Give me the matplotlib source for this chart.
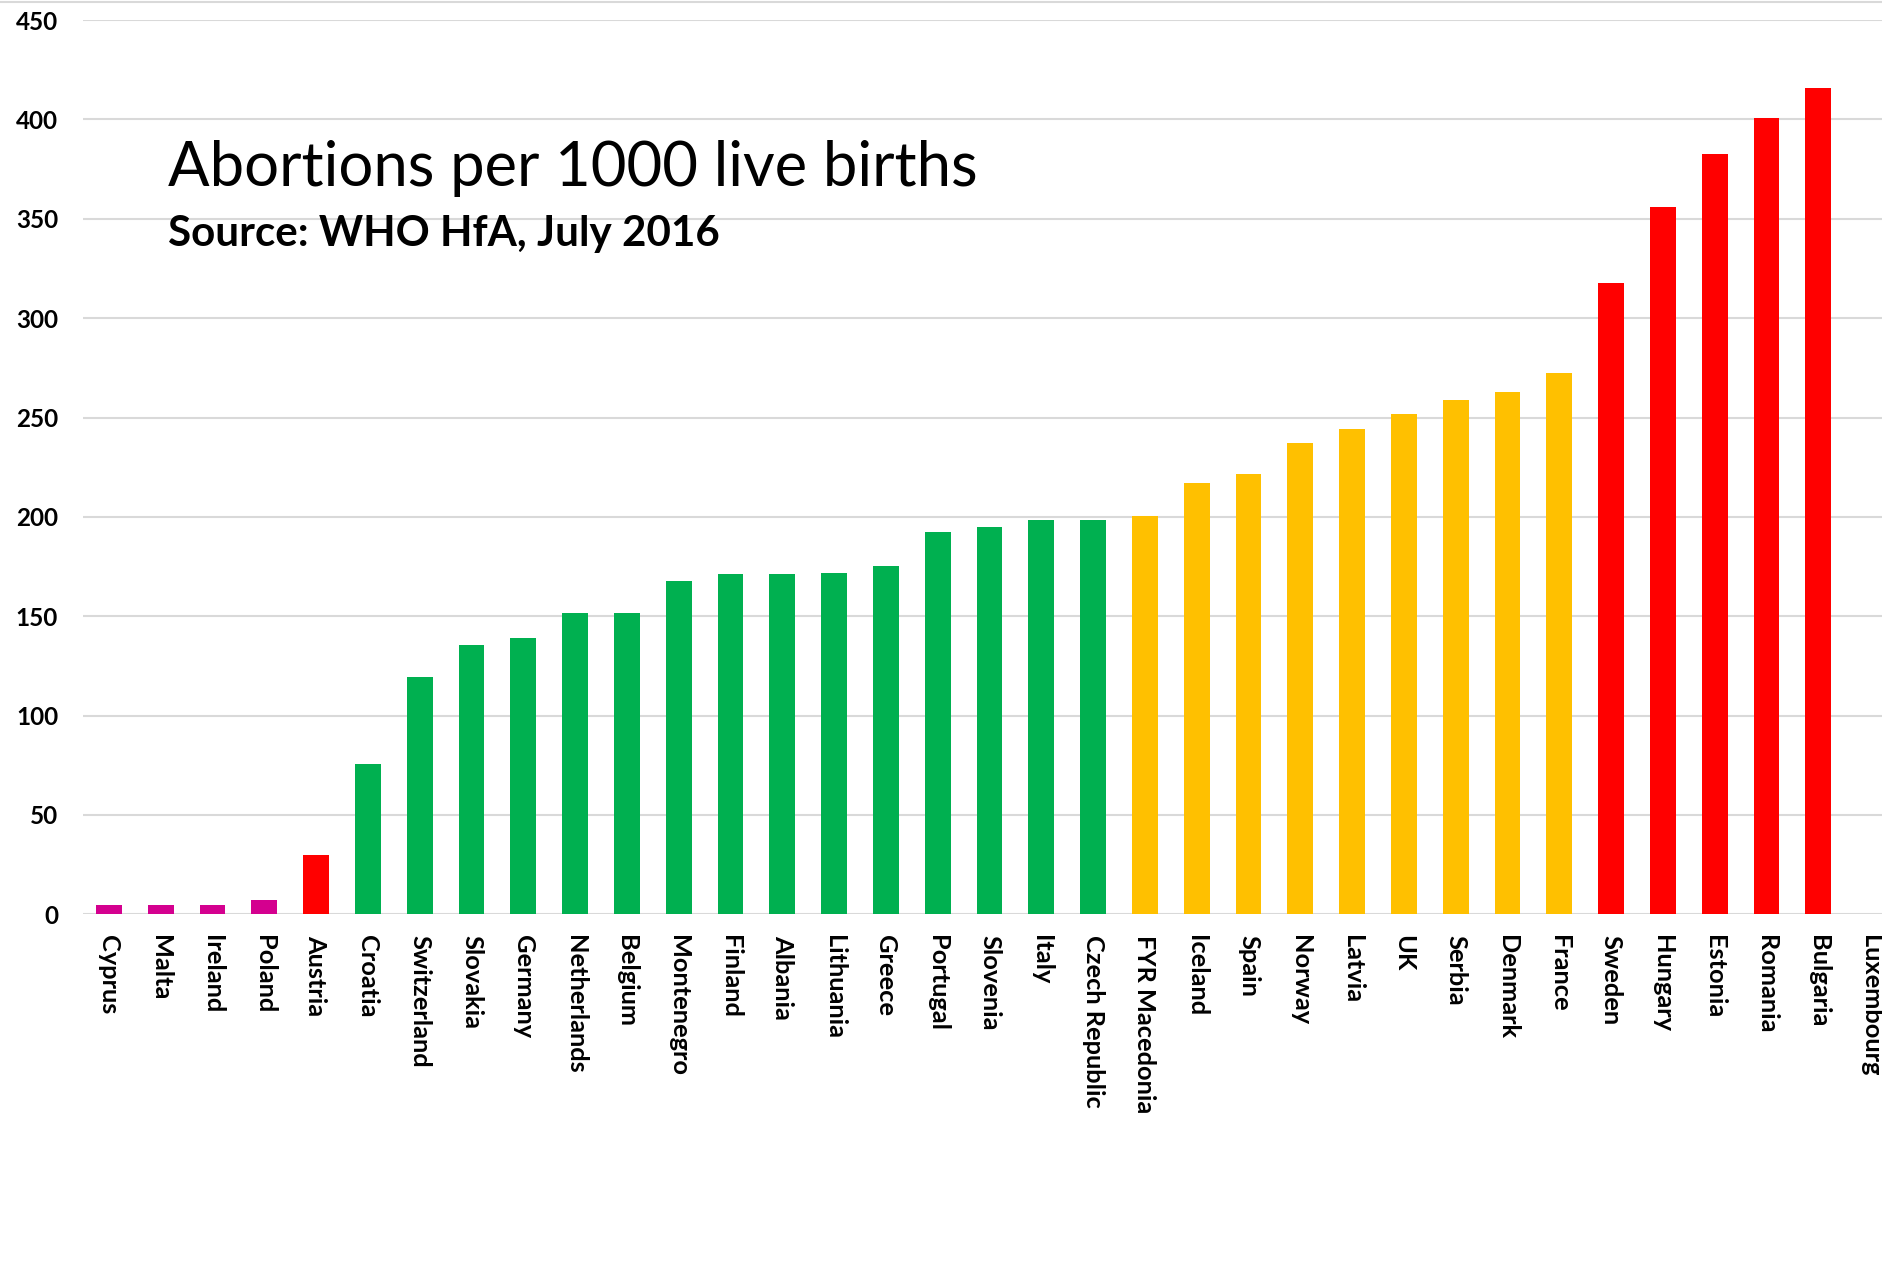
import numpy as np
import matplotlib
matplotlib.use("Agg")
import matplotlib.pyplot as plt
from matplotlib.lines import Line2D

countries = ["Cyprus", "Malta", "Ireland", "Poland", "Austria", "Croatia", "Switzerland",
             "Slovakia", "Germany", "Netherlands", "Belgium", "Montenegro", "Finland",
             "Albania", "Lithuania", "Greece", "Portugal", "Slovenia", "Italy",
             "Czech Republic", "FYR Macedonia", "Iceland", "Spain", "Norway", "Latvia",
             "UK", "Serbia", "Denmark", "France", "Sweden", "Hungary", "Estonia",
             "Romania", "Bulgaria", "Luxembourg"]
abortions = [4.5, 4.5, 4.5, 7.2, 29.7, 75.8, 119.4, 135.4, 138.9, 151.5, 151.5, 167.6,
             171.1, 171.1, 171.9, 175.5, 192.4, 195.1, 198.6, 198.6, 200.3, 217.2,
             221.7, 237.0, 244.1, 251.9, 259.0, 262.7, 272.4, 317.9, 356.1, 382.8,
             400.6, 415.7, 0]
group = ["low", "low", "low", "low", "high", "mid", "mid", "mid", "mid", "mid", "mid",
         "mid", "mid", "mid", "mid", "mid", "mid", "mid", "mid", "mid", "upper",
         "upper", "upper", "upper", "upper", "upper", "upper", "upper", "upper",
         "high", "high", "high", "high", "high", "high"]
yticks = [0, 50, 100, 150, 200, 250, 300, 350, 400, 450]

palette = {"low": "#D4008F", "mid": "#00B050", "upper": "#FFC000", "high": "#FF0000"}

plt.rcParams["font.family"] = ["Lato", "DejaVu Sans"]

fig = plt.figure(figsize=(18.83, 12.69), dpi=100)
ax = fig.add_axes([0.0441, 0.2795, 0.9628, 0.7047])

x = np.arange(len(countries))
ax.bar(x, abortions, width=0.5, color=[palette[g] for g in group], zorder=3)

ax.set_xlim(-0.5, len(countries) - 0.5)
ax.set_ylim(0, 450)
ax.set_yticks(yticks)
ax.set_yticklabels([str(v) for v in yticks], fontsize=17.5, fontweight="bold")
ax.set_xticks(x)
ax.set_xticklabels(countries, rotation=270, fontsize=18.3, fontweight="bold")
ax.tick_params(axis="y", length=0, pad=18)
ax.tick_params(axis="x", length=0, pad=15)
ax.yaxis.grid(True, color="#D9D9D9", linewidth=1.5, zorder=0)
ax.set_axisbelow(True)
for s in ax.spines.values():
    s.set_visible(False)

fig.text(0.0892, 0.8534, "Abortions per 1000 live births", fontsize=44.3, va="baseline")
fig.text(0.0892, 0.8061, "Source: WHO HfA, July 2016", fontsize=30.3, fontweight="bold",
         va="baseline")
fig.add_artist(Line2D([0, 1], [0.9985, 0.9985], color="#D9D9D9", linewidth=1.5))

fig.savefig("out.png", dpi=100, facecolor="white")
